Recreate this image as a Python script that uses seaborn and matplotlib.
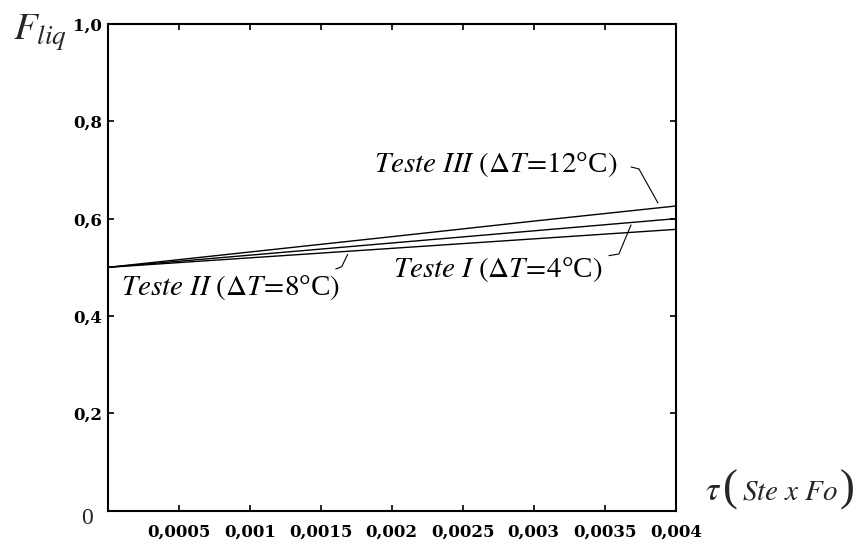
import numpy as np
import pandas as pd
import matplotlib
matplotlib.use("Agg")
import matplotlib.pyplot as plt
import seaborn as sns

# ---- data ----
tau = [0.0, 0.001, 0.002, 0.003, 0.004]
teste_I = [0.500, 0.5195, 0.539, 0.5585, 0.578]
teste_II = [0.500, 0.525, 0.550, 0.575, 0.600]
teste_III = [0.500, 0.5315, 0.563, 0.595, 0.626]
series_names = ["Teste I", "Teste II", "Teste III"]
x_ticks = [0.0005, 0.001, 0.0015, 0.002, 0.0025, 0.003, 0.0035, 0.004]
x_tick_labels = ["0,0005", "0,001", "0,0015", "0,002", "0,0025", "0,003", "0,0035", "0,004"]
y_ticks = [0.2, 0.4, 0.6, 0.8, 1.0]
y_tick_labels = ["0,2", "0,4", "0,6", "0,8", "1,0"]

df = pd.DataFrame({
    "tau": tau * 3,
    "F": teste_I + teste_II + teste_III,
    "serie": [series_names[0]] * len(tau) + [series_names[1]] * len(tau) + [series_names[2]] * len(tau),
})

sns.set_style("ticks")
plt.rcParams["font.family"] = ["Liberation Serif", "DejaVu Serif"]
plt.rcParams["mathtext.fontset"] = "stix"

fig = plt.figure(figsize=(8.56, 5.43), dpi=100)
ax = fig.add_axes([0.1258, 0.0595, 0.6636, 0.8963])

sns.lineplot(data=df, x="tau", y="F", hue="serie",
             palette=["black", "black", "black"], legend=False,
             linewidth=1.0, ax=ax)

ax.set_xlim(0, 0.004)
ax.set_ylim(0, 1.0)
tick_font = dict(family="DejaVu Serif", fontweight="bold", fontsize=12)
ax.set_xticks(x_ticks)
ax.set_xticklabels(x_tick_labels, **tick_font)
ax.set_yticks(y_ticks)
ax.set_yticklabels(y_tick_labels, **tick_font)
ax.set_xlabel("")
ax.set_ylabel("")
ax.tick_params(direction="in", length=4, width=1.2, top=True, right=True,
               colors="black")
ax.tick_params(axis="x", pad=9)
ax.tick_params(axis="y", pad=4)
for s in ax.spines.values():
    s.set_visible(True)
    s.set_linewidth(1.5)
    s.set_color("black")

# annotations
lab_kw = dict(fontsize=21, color="black")
ax.text(0.003587, 0.7103, r"$\mathit{Teste\ III\ (\Delta T\!=\!12}$°C$\mathit{)}$",
        ha="right", va="center", **lab_kw)
ax.text(0.003481, 0.4946, r"$\mathit{Teste\ I\ (\Delta T\!=\!4}$°C$\mathit{)}$",
        ha="right", va="center", **lab_kw)
ax.text(0.001636, 0.4596, r"$\mathit{Teste\ II\ (\Delta T\!=\!8}$°C$\mathit{)}$",
        ha="right", va="center", **lab_kw)

ax.plot([0.003685, 0.003741, 0.003875], [0.7063, 0.7022, 0.6321], color="black", lw=0.8)
ax.plot([0.003530, 0.003600, 0.003685], [0.5240, 0.5275, 0.5871], color="black", lw=0.8)
ax.plot([0.001606, 0.001648, 0.001690], [0.4966, 0.5013, 0.5268], color="black", lw=0.8)

# axis titles
fig.text(13 / 856, 1 - 33 / 543, r"$\mathit{F}_{\mathit{liq}}$", fontsize=28,
         ha="left", va="center")
fig.text(87 / 856, 1 - 519 / 543, "0", fontsize=17, ha="center", va="center")
fig.text(713 / 856, 1 - 492 / 543, r"$\tau$", fontsize=24, ha="center", va="center")
fig.text(730 / 856, 1 - 490 / 543, "(", fontsize=32, ha="center", va="center",
         fontweight="light")
fig.text(790 / 856, 1 - 492 / 543, r"$\mathit{Ste\ x\ Fo}$", fontsize=21,
         ha="center", va="center")
fig.text(847 / 856, 1 - 490 / 543, ")", fontsize=32, ha="center", va="center")

fig.savefig("out.png", dpi=100)
